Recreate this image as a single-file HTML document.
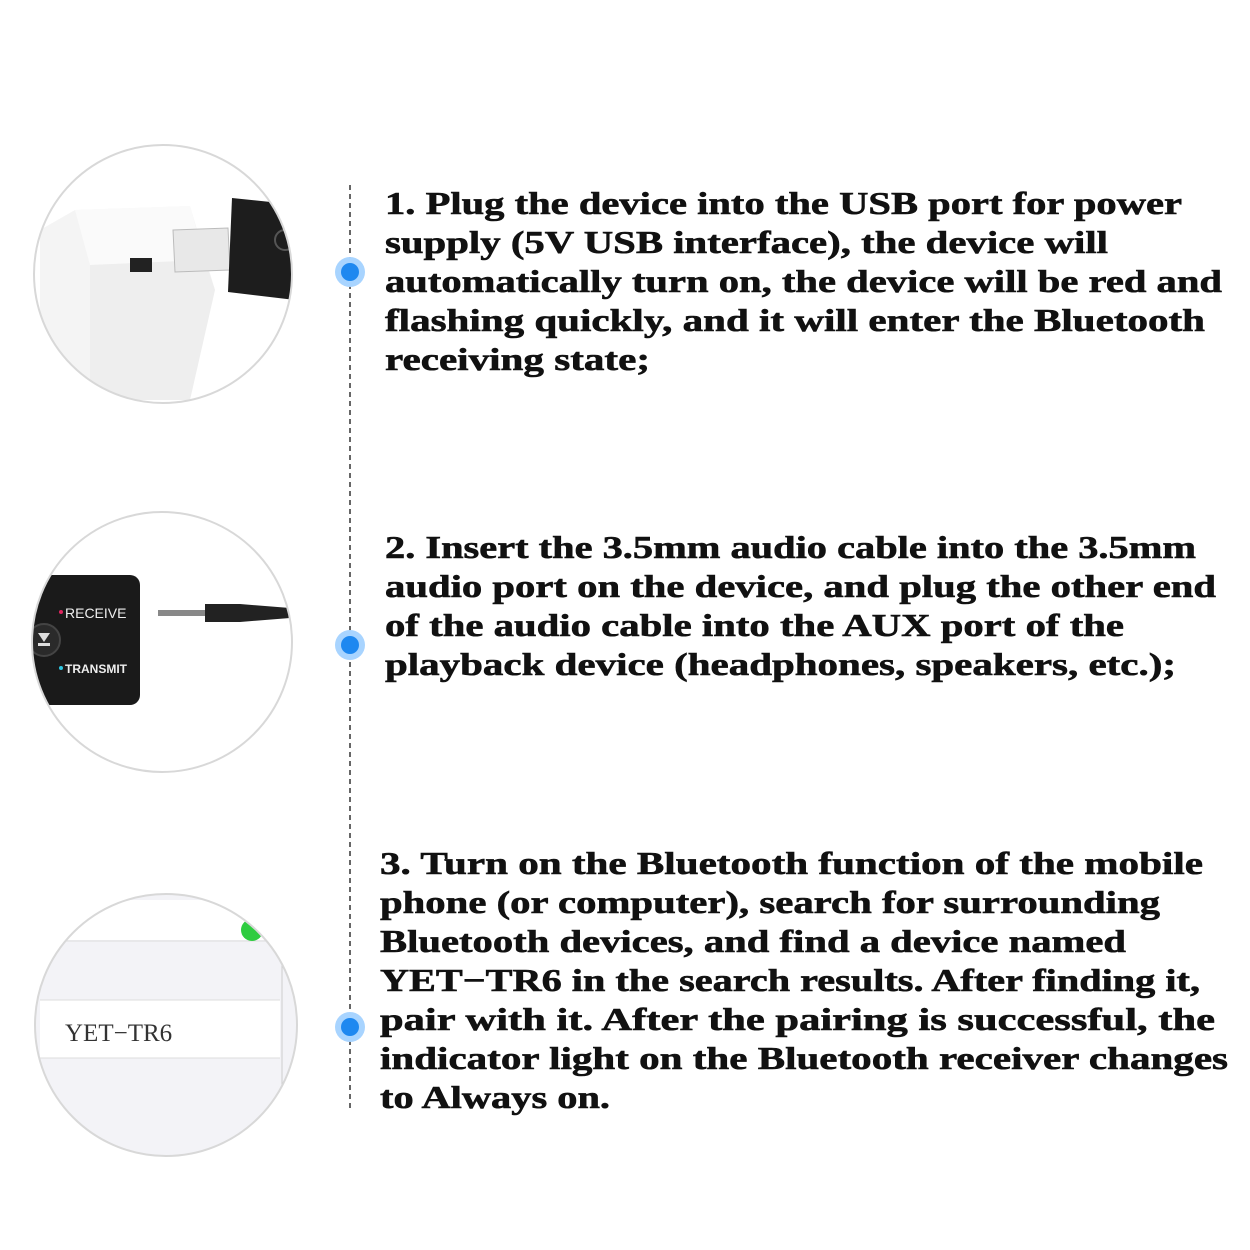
<!DOCTYPE html>
<html><head><meta charset="utf-8"><style>
html,body{margin:0;padding:0;background:#fff;width:1250px;height:1250px;overflow:hidden}
</style></head><body>
<svg width="1250" height="1250" viewBox="0 0 1250 1250" xmlns="http://www.w3.org/2000/svg">
<defs>
<clipPath id="c1"><circle cx="163" cy="274" r="129"/></clipPath>
<clipPath id="c2"><circle cx="162" cy="642" r="130"/></clipPath>
<clipPath id="c3"><circle cx="166" cy="1025" r="131"/></clipPath>
</defs>
<rect width="1250" height="1250" fill="#fff"/>

<!-- circle 1 -->
<g clip-path="url(#c1)">
<rect x="0" y="0" width="400" height="450" fill="#fff"/>
<polygon points="75,210 190,206 215,290 150,400 40,400 40,230" fill="#f4f4f4"/>
<polygon points="75,210 190,206 205,260 90,265" fill="#fafafa"/>
<polygon points="90,265 205,260 215,290 190,400 90,400" fill="#eeeeee"/>
<rect x="130" y="258" width="22" height="14" fill="#222"/>
<polygon points="173,230 228,228 230,270 175,272" fill="#e8e8e8" stroke="#bbb"/>
<polygon points="232,198 300,205 295,300 228,292" fill="#1d1d1d"/>
<circle cx="285" cy="240" r="10" fill="none" stroke="#555" stroke-width="2"/>
</g>
<circle cx="163" cy="274" r="129" fill="none" stroke="#d8d8d8" stroke-width="2"/>

<!-- circle 2 -->
<g clip-path="url(#c2)">
<rect x="0" y="500" width="400" height="300" fill="#fff"/>
<rect x="20" y="575" width="120" height="130" rx="10" fill="#1a1a1a"/>
<circle cx="44" cy="640" r="16" fill="#2a2a2a" stroke="#444" stroke-width="2"/>
<polygon points="38,633 50,633 44,642" fill="#ddd"/><rect x="38" y="643" width="12" height="3" fill="#ddd"/>
<circle cx="61" cy="612" r="2" fill="#e0245e"/>
<text x="65" y="618" font-family="Liberation Sans, sans-serif" font-size="14" fill="#eee">RECEIVE</text>
<circle cx="61" cy="668" r="2" fill="#2ec6e0"/>
<text x="65" y="673" font-family="Liberation Sans, sans-serif" font-size="12" fill="#eee" font-weight="bold">TRANSMIT</text>
<rect x="158" y="610" width="50" height="6" fill="#888"/>
<path d="M205,604 L240,604 L290,608 L290,618 L240,622 L205,622 Z" fill="#222"/>
</g>
<circle cx="162" cy="642" r="130" fill="none" stroke="#d8d8d8" stroke-width="2"/>

<!-- circle 3 -->
<g clip-path="url(#c3)">
<rect x="0" y="880" width="400" height="300" fill="#f3f3f7"/>
<rect x="40" y="900" width="240" height="40" fill="#fff"/>
<line x1="40" y1="941" x2="280" y2="941" stroke="#ddd"/>
<rect x="40" y="1000" width="240" height="58" fill="#fff"/>
<line x1="40" y1="1000" x2="280" y2="1000" stroke="#ddd"/>
<line x1="40" y1="1058" x2="280" y2="1058" stroke="#ddd"/>
<line x1="282" y1="900" x2="282" y2="1160" stroke="#ccc"/>
<circle cx="252" cy="930" r="11" fill="#2ecc40"/>
<text x="65" y="1041" font-family="Liberation Serif, serif" font-size="25" fill="#333">YET−TR6</text>
</g>
<circle cx="166" cy="1025" r="131" fill="none" stroke="#d8d8d8" stroke-width="2"/>

<!-- timeline -->
<line x1="350" y1="185" x2="350" y2="1112" stroke="#333" stroke-width="1.5" stroke-dasharray="5,4"/>
<g>
<circle cx="350" cy="272" r="15" fill="#a8d4ff"/><circle cx="350" cy="272" r="9" fill="#1e88f0"/>
<circle cx="350" cy="645" r="15" fill="#a8d4ff"/><circle cx="350" cy="645" r="9" fill="#1e88f0"/>
<circle cx="350" cy="1027" r="15" fill="#a8d4ff"/><circle cx="350" cy="1027" r="9" fill="#1e88f0"/>
</g>

<g font-family="Liberation Serif, serif" font-weight="bold" font-size="32" fill="#111" stroke="#111" stroke-width="0.6">
<text x="385" y="214" textLength="797" lengthAdjust="spacingAndGlyphs">1. Plug the device into the USB port for power</text>
<text x="385" y="253" textLength="723" lengthAdjust="spacingAndGlyphs">supply (5V USB interface), the device will</text>
<text x="385" y="292" textLength="837" lengthAdjust="spacingAndGlyphs">automatically turn on, the device will be red and</text>
<text x="385" y="331" textLength="820" lengthAdjust="spacingAndGlyphs">flashing quickly, and it will enter the Bluetooth</text>
<text x="385" y="370" textLength="265" lengthAdjust="spacingAndGlyphs">receiving state;</text>

<text x="385" y="558" textLength="811" lengthAdjust="spacingAndGlyphs">2. Insert the 3.5mm audio cable into the 3.5mm</text>
<text x="385" y="597" textLength="831" lengthAdjust="spacingAndGlyphs">audio port on the device, and plug the other end</text>
<text x="385" y="636" textLength="739" lengthAdjust="spacingAndGlyphs">of the audio cable into the AUX port of the</text>
<text x="385" y="675" textLength="791" lengthAdjust="spacingAndGlyphs">playback device (headphones, speakers, etc.);</text>

<text x="380" y="874" textLength="823" lengthAdjust="spacingAndGlyphs">3. Turn on the Bluetooth function of the mobile</text>
<text x="380" y="913" textLength="780" lengthAdjust="spacingAndGlyphs">phone (or computer), search for surrounding</text>
<text x="380" y="952" textLength="746" lengthAdjust="spacingAndGlyphs">Bluetooth devices, and find a device named</text>
<text x="380" y="991" textLength="820" lengthAdjust="spacingAndGlyphs">YET−TR6 in the search results. After finding it,</text>
<text x="380" y="1030" textLength="835" lengthAdjust="spacingAndGlyphs">pair with it. After the pairing is successful, the</text>
<text x="380" y="1069" textLength="848" lengthAdjust="spacingAndGlyphs">indicator light on the Bluetooth receiver changes</text>
<text x="380" y="1108" textLength="230" lengthAdjust="spacingAndGlyphs">to Always on.</text>
</g>
</svg>
</body></html>
